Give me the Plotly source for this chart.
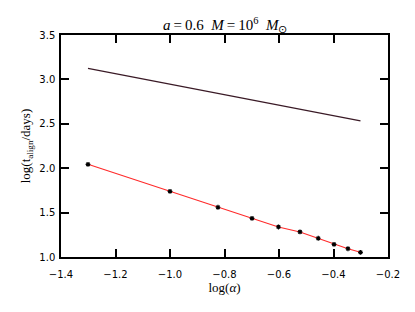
import plotly.graph_objects as go

log_alpha = [-1.301, -1.0, -0.824, -0.699, -0.602, -0.523, -0.456, -0.398, -0.347, -0.301]
log_t_align = [2.044, 1.740, 1.560, 1.436, 1.338, 1.282, 1.211, 1.143, 1.093, 1.053]

dark_x = [-1.301, -0.301]
dark_y = [3.125, 2.532]

x_ticks = [-1.4, -1.2, -1.0, -0.8, -0.6, -0.4, -0.2]
y_ticks = [1.0, 1.5, 2.0, 2.5, 3.0, 3.5]

fig = go.Figure()
fig.add_trace(go.Scatter(x=dark_x, y=dark_y, mode="lines",
                         line=dict(color="#3a1a26", width=1.2), showlegend=False))
fig.add_trace(go.Scatter(x=log_alpha, y=log_t_align, mode="lines+markers",
                         line=dict(color="#ff2a2a", width=1.1),
                         marker=dict(symbol="asterisk-open", size=4,
                                     color="black", line=dict(color="black", width=1.2)),
                         showlegend=False))

axis_common = dict(showgrid=False, zeroline=False, showline=True, linecolor="black",
                   linewidth=1.5, mirror="ticks", ticks="inside", ticklen=8,
                   tickwidth=1.5, tickcolor="black", automargin=False,
                   tickfont=dict(family="DejaVu Sans", size=10, color="black"))

fig.update_xaxes(range=[-1.4, -0.2], tickvals=x_ticks,
                 ticktext=[f"{v:.1f}".replace("-", "\u2212") for v in x_ticks],
                 ticklabelstandoff=7,
                 title=dict(text="log(<i>α</i>)", font=dict(family="Liberation Serif", size=13, color="black"),
                            standoff=0),
                 **axis_common)
fig.update_yaxes(range=[1.0, 3.5], tickvals=y_ticks,
                 ticktext=[f"{v:.1f}" for v in y_ticks],
                 ticklabelstandoff=2,
                 title=dict(text="log(t<sub>align</sub>/days)", font=dict(family="Liberation Serif", size=13, color="black"),
                            standoff=6),
                 **axis_common)

fig.add_annotation(text="<i>a</i>\u2009=\u20090.6  <i>M</i>\u2009=\u200910<sup>6</sup>  <i>M</i><sub>⊙</sub>",
                   xref="paper", yref="paper", x=0.5, y=1.0, yanchor="bottom", yshift=-2,
                   showarrow=False, font=dict(family="Liberation Serif", size=15, color="black"))

# page body adds an 8px offset; compensate in size and margins
fig.update_layout(width=407, height=304, margin=dict(l=53, r=27, t=27, b=55),
                  plot_bgcolor="white", paper_bgcolor="white")

fig.write_html("out.html")
